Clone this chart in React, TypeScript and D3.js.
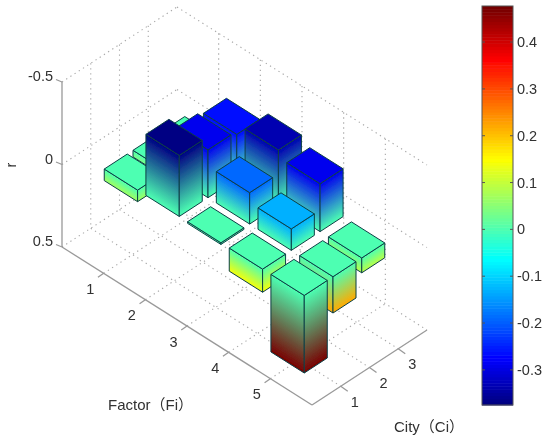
// App.tsx
import * as d3 from "d3";

const factors = [1, 2, 3, 4, 5];
const cities = [1, 2, 3];
const rTicks = [-0.5, 0, 0.5];
const colorbarTicks = [0.4, 0.3, 0.2, 0.1, 0, -0.1, -0.2, -0.3];

// one row per factor, one value per city
const factor1 = [0.07, 0.04, 0.02];
const factor2 = [-0.37, -0.29, -0.27];
const factor3 = [0.01, -0.19, -0.335];
const factor4 = [0.14, -0.13, -0.29];
const factor5 = [0.47, 0.22, 0.09];
const rows = [factor1, factor2, factor3, factor4, factor5];

const colorMin = -0.375;
const colorMax = 0.477;
const barHalf = 0.4;

const jetDomain = [0, 0.115, 0.365, 0.615, 0.865, 1];
const jetColors = ["#00007c", "#0000ff", "#00ffff", "#ffff00", "#ff0000", "#700000"];

const jet = d3.scaleLinear<string>().domain(jetDomain).range(jetColors).interpolate(d3.interpolateRgb).clamp(true);
const colorOf = (r: number) => jet((r - colorMin) / (colorMax - colorMin));

// oblique projection of the 3D box
const originX = 62;
const fX = d3.scaleLinear().domain([0, 6]).range([0, 250]);
const fY = d3.scaleLinear().domain([0, 6]).range([0, 158]);
const cX = d3.scaleLinear().domain([0, 4]).range([0, 115]);
const cY = d3.scaleLinear().domain([0, 4]).range([0, -75]);
const rY = d3.scaleLinear().domain([-0.5, 0.5]).range([82, 247]);

type Pt = [number, number];
const project = (f: number, c: number, r: number): Pt => [originX + fX(f) + cX(c), rY(r) + fY(f) + cY(c)];
const poly = d3.line().curve(d3.curveLinearClosed);
const seg = (a: Pt, b: Pt) => d3.line()([a, b]) as string;

const cbarY = d3.scaleLinear().domain([colorMin, colorMax]).range([405, 6]);
const cbarLeft = 482;
const cbarRight = 513;
const cbarBands = d3.range(128);
const cbarBand = d3.scaleBand<number>().domain(cbarBands).range([405, 6]);

const font = '"Liberation Sans", "Noto Sans CJK SC", sans-serif';
const textColor = "#303030";
const axisColor = "#999";
const gridColor = "#a8a8a8";
const edgeColor = "#0c3f45";

// vector across the iso-colour lines of a side face, so the fade follows its slant
function fadeEnd(a: Pt, b: Pt, h: number): Pt {
  const ex = b[0] - a[0];
  const ey = b[1] - a[1];
  const len = Math.hypot(ex, ey);
  const nx = -ey / len;
  const ny = ex / len;
  const d = h * ny;
  return [a[0] + nx * d, a[1] + ny * d];
}

function Grid() {
  const lines: string[] = [];
  // floor
  factors.forEach(f => lines.push(seg(project(f, 0, 0.5), project(f, 4, 0.5))));
  cities.forEach(c => lines.push(seg(project(0, c, 0.5), project(6, c, 0.5))));
  // walls
  rTicks.forEach(r => {
    lines.push(seg(project(0, 0, r), project(0, 4, r)));
    lines.push(seg(project(0, 4, r), project(6, 4, r)));
  });
  cities.forEach(c => lines.push(seg(project(0, c, -0.5), project(0, c, 0.5))));
  factors.forEach(f => lines.push(seg(project(f, 4, -0.5), project(f, 4, 0.5))));
  return (
    <g fill="none" stroke={gridColor} strokeWidth={1.1} strokeDasharray="1.3 3.7">
      {lines.map((d, i) => <path key={i} d={d} />)}
    </g>
  );
}

function Bars() {
  const cells = factors.flatMap((f, i) => cities.map((c, j) => ({ f, c, r: rows[i][j] })));
  // back to front
  cells.sort((a, b) => a.f - a.c - (b.f - b.c));
  return (
    <g stroke={edgeColor} strokeWidth={1} strokeLinejoin="round">
      {cells.map(({ f, c, r }) => {
        const top = Math.min(r, 0);
        const bottom = Math.max(r, 0);
        const f0 = f - barHalf, f1 = f + barHalf;
        const c0 = c - barHalf, c1 = c + barHalf;
        const left = project(f0, c0, top);
        const front = project(f1, c0, top);
        const right = project(f1, c1, top);
        const back = project(f0, c1, top);
        const leftB = project(f0, c0, bottom);
        const frontB = project(f1, c0, bottom);
        const rightB = project(f1, c1, bottom);
        const h = frontB[1] - front[1];
        const idL = `side-l-${f}-${c}`;
        const idR = `side-r-${f}-${c}`;
        const endL = fadeEnd(left, front, h);
        const endR = fadeEnd(front, right, h);
        return (
          <g key={idL}>
            <defs>
              <linearGradient id={idL} gradientUnits="userSpaceOnUse" x1={left[0]} y1={left[1]} x2={endL[0]} y2={endL[1]}>
                <stop offset="0" stopColor={colorOf(top)} />
                <stop offset="1" stopColor={colorOf(bottom)} />
              </linearGradient>
              <linearGradient id={idR} gradientUnits="userSpaceOnUse" x1={front[0]} y1={front[1]} x2={endR[0]} y2={endR[1]}>
                <stop offset="0" stopColor={colorOf(top)} />
                <stop offset="1" stopColor={colorOf(bottom)} />
              </linearGradient>
            </defs>
            <path d={poly([left, front, frontB, leftB]) as string} fill={`url(#${idL})`} />
            <path d={poly([front, right, rightB, frontB]) as string} fill={`url(#${idR})`} />
            <path d={poly([left, front, right, back]) as string} fill={colorOf(top)} />
          </g>
        );
      })}
    </g>
  );
}

function Axes() {
  const tickF = cX(-0.2);
  return (
    <g fontFamily={font} fontSize={14.5} fill={textColor}>
      <g fill="none" stroke={axisColor} strokeWidth={1.3}>
        <path d={seg(project(0, 0, -0.5), project(0, 0, 0.5))} />
        <path d={seg(project(0, 0, 0.5), project(6, 0, 0.5))} />
        <path d={seg(project(6, 0, 0.5), project(6, 4, 0.5))} />
        {rTicks.map(r => {
          const p = project(0, 0, r);
          return <path key={r} d={seg(p, [p[0] - 6, p[1] - 2.5])} />;
        })}
        {factors.map(f => {
          const p = project(f, 0, 0.5);
          return <path key={f} d={seg(p, [p[0] + tickF, p[1] + 4])} />;
        })}
        {cities.map(c => {
          const p = project(6, c, 0.5);
          return <path key={c} d={seg(p, [p[0] + 7, p[1] + 5])} />;
        })}
      </g>
      {rTicks.map(r => (
        <text key={r} x={53} y={rY(r) - 6} dy="0.35em" textAnchor="end">{r}</text>
      ))}
      {factors.map(f => {
        const p = project(f, 0, 0.5);
        return <text key={f} x={p[0] - 13.5} y={p[1] + 15.5} dy="0.35em" textAnchor="middle">{f}</text>;
      })}
      {cities.map(c => {
        const p = project(6, c, 0.5);
        return <text key={c} x={p[0] + 14} y={p[1] + 15.5} dy="0.35em" textAnchor="middle">{c}</text>;
      })}
      <text transform="translate(11,165) rotate(-90)" dy="0.35em" textAnchor="middle">r</text>
      <text x={108} y={405} dy="0.35em" fontSize={15}>Factor（Fi）</text>
      <text x={394} y={427} dy="0.35em" fontSize={15}>City（Ci）</text>
    </g>
  );
}

function Colorbar() {
  return (
    <g>
      {cbarBands.map(i => (
        <rect
          key={i}
          x={cbarLeft}
          y={cbarBand(i)}
          width={cbarRight - cbarLeft}
          height={cbarBand.bandwidth() + 0.5}
          fill={jet((i + 0.5) / cbarBands.length)}
        />
      ))}
      <rect x={cbarLeft} y={6} width={cbarRight - cbarLeft} height={399} fill="none" stroke="#555" strokeWidth={1} />
      {colorbarTicks.map(t => (
        <g key={t}>
          <path d={seg([cbarLeft, cbarY(t)], [cbarLeft + 3, cbarY(t)])} stroke="#555" />
          <path d={seg([cbarRight - 3, cbarY(t)], [cbarRight, cbarY(t)])} stroke="#555" />
          <text x={517} y={cbarY(t)} dy="0.35em" fontFamily={font} fontSize={14.5} fill={textColor}>{t}</text>
        </g>
      ))}
    </g>
  );
}

export default function App() {
  return (
    <svg width={550} height={440} style={{ position: "absolute", left: 0, top: 0, background: "#fff" }}>
      <defs>
        <filter id="soft" filterUnits="userSpaceOnUse" x={0} y={0} width={550} height={440}>
          <feGaussianBlur stdDeviation={0.45} />
        </filter>
      </defs>
      <g filter="url(#soft)">
        <Grid />
        <Bars />
        <Axes />
        <Colorbar />
      </g>
    </svg>
  );
}
